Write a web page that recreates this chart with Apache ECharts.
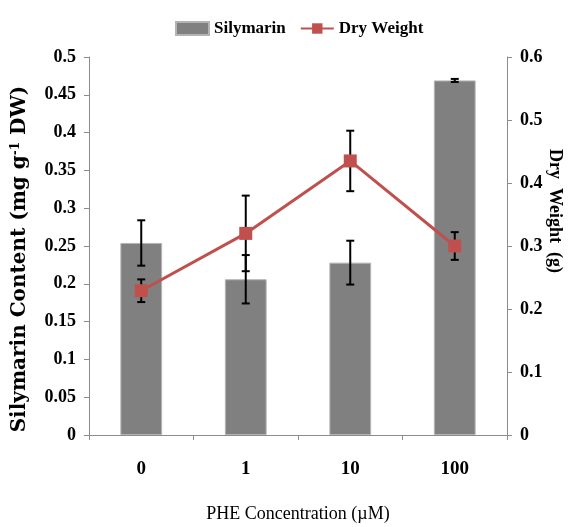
<!DOCTYPE html>
<html>
<head>
<meta charset="utf-8">
<script src="https://cdn.jsdelivr.net/npm/echarts@6/dist/echarts.min.js"></script>
<style>
  html, body { margin: 0; padding: 0; background: #fff; }
  #chart { width: 574px; height: 527px; }
</style>
</head>
<body>
<div id="chart"></div>
<script>
// PHE concentrations (µM)
var categories = ['0', '1', '10', '100'];
// Silymarin content (mg g-1 DW) and its error
var silymarin = [0.254, 0.206, 0.228, 0.469];
var silymarinErr = [0.030, 0.032, 0.029, 0.002];
// Dry weight (g) and its error
var dryWeight = [0.229, 0.320, 0.435, 0.300];
var dryWeightErr = [0.018, 0.060, 0.048, 0.022];

var FONT = "'Liberation Serif', 'Times New Roman', serif";
var WIDE = "'DejaVu Serif', 'Liberation Serif', serif";

function errorData(vals, errs) {
  return vals.map(function (v, i) { return [i, v - errs[i], v + errs[i]]; });
}

function renderError(params, api) {
  var x = api.value(0);
  var lo = api.coord([x, api.value(1)]);
  var hi = api.coord([x, api.value(2)]);
  var half = 4;
  var style = { stroke: '#000', lineWidth: 2 };
  return {
    type: 'group',
    children: [
      { type: 'line', shape: { x1: lo[0], y1: lo[1], x2: hi[0], y2: hi[1] }, style: style },
      { type: 'line', shape: { x1: lo[0] - half, y1: lo[1], x2: lo[0] + half, y2: lo[1] }, style: style },
      { type: 'line', shape: { x1: hi[0] - half, y1: hi[1], x2: hi[0] + half, y2: hi[1] }, style: style }
    ]
  };
}

var axisLineStyle = { show: true, lineStyle: { color: '#8c8c8c', width: 1 } };
var axisTickStyle = { show: true, length: 5, lineStyle: { color: '#8c8c8c' } };
var tickLabel = { fontFamily: FONT, fontWeight: 'bold', fontSize: 18, color: '#000' };

var chart = echarts.init(document.getElementById('chart'), null, { renderer: 'canvas' });
chart.setOption({
  animation: false,
  backgroundColor: '#fff',
  legend: {
    top: 15,
    left: 170,
    itemGap: 14,
    itemWidth: 33,
    itemHeight: 13,
    textStyle: { fontFamily: FONT, fontSize: 17, color: '#000', fontWeight: 'bold' },
    data: [
      { name: 'Silymarin', icon: 'rect' },
      { name: 'Dry Weight' }
    ]
  },
  grid: { left: 89, right: 67, top: 57, bottom: 92, outerBoundsMode: 'none', containLabel: false },
  xAxis: {
    type: 'category',
    data: categories,
    axisLine: axisLineStyle,
    axisTick: axisTickStyle,
    axisLabel: Object.assign({ margin: 25 }, tickLabel, { fontSize: 19 }),
    name: 'PHE Concentration (µM)',
    nameLocation: 'middle',
    nameGap: 70,
    nameMoveOverlap: false,
    nameTextStyle: { fontFamily: FONT, fontSize: 18, color: '#000' }
  },
  yAxis: [
    {
      type: 'value',
      min: 0, max: 0.5, interval: 0.05,
      position: 'left',
      axisLine: axisLineStyle,
      axisTick: axisTickStyle,
      splitLine: { show: false },
      axisLabel: Object.assign({ margin: 13 }, tickLabel),
      name: '{a|Silymarin Content (mg g}{s|-1}{a| DW)}',
      nameLocation: 'middle',
      nameGap: 59,
      nameMoveOverlap: false,
      nameRotate: 90,
      nameTextStyle: {
        padding: [0, 26, 0, 0],
        rich: {
          a: { fontFamily: WIDE, fontWeight: 'bold', fontSize: 20, color: '#000' },
          s: { fontFamily: WIDE, fontWeight: 'bold', fontSize: 12, color: '#000', verticalAlign: 'top', padding: [0, 0, 8, 0] }
        }
      }
    },
    {
      type: 'value',
      min: 0, max: 0.6, interval: 0.1,
      position: 'right',
      axisLine: axisLineStyle,
      axisTick: axisTickStyle,
      splitLine: { show: false },
      axisLabel: Object.assign({ margin: 13 }, tickLabel),
      name: 'Dry  Weight  (g)',
      nameLocation: 'middle',
      nameGap: 39,
      nameMoveOverlap: false,
      nameRotate: -90,
      nameTextStyle: { fontFamily: FONT, fontWeight: 'bold', fontSize: 18, color: '#000', padding: [0, 70, 0, 0] }
    }
  ],
  series: [
    {
      name: 'Silymarin',
      type: 'bar',
      yAxisIndex: 0,
      data: silymarin,
      barWidth: '40%',
      itemStyle: { color: '#808080', borderColor: '#b4b4b4', borderWidth: 1 },
      z: 2
    },
    {
      name: 'SilymarinErr',
      type: 'custom',
      yAxisIndex: 0,
      data: errorData(silymarin, silymarinErr),
      renderItem: renderError,
      encode: { x: 0, y: [1, 2] },
      z: 3
    },
    {
      name: 'DryWeightErr',
      type: 'custom',
      yAxisIndex: 1,
      data: errorData(dryWeight, dryWeightErr),
      renderItem: renderError,
      encode: { x: 0, y: [1, 2] },
      z: 3
    },
    {
      name: 'Dry Weight',
      type: 'line',
      yAxisIndex: 1,
      data: dryWeight,
      symbol: 'rect',
      symbolSize: 13,
      lineStyle: { color: '#c0504d', width: 3 },
      itemStyle: { color: '#c0504d' },
      z: 4
    }
  ]
});
</script>
</body>
</html>
